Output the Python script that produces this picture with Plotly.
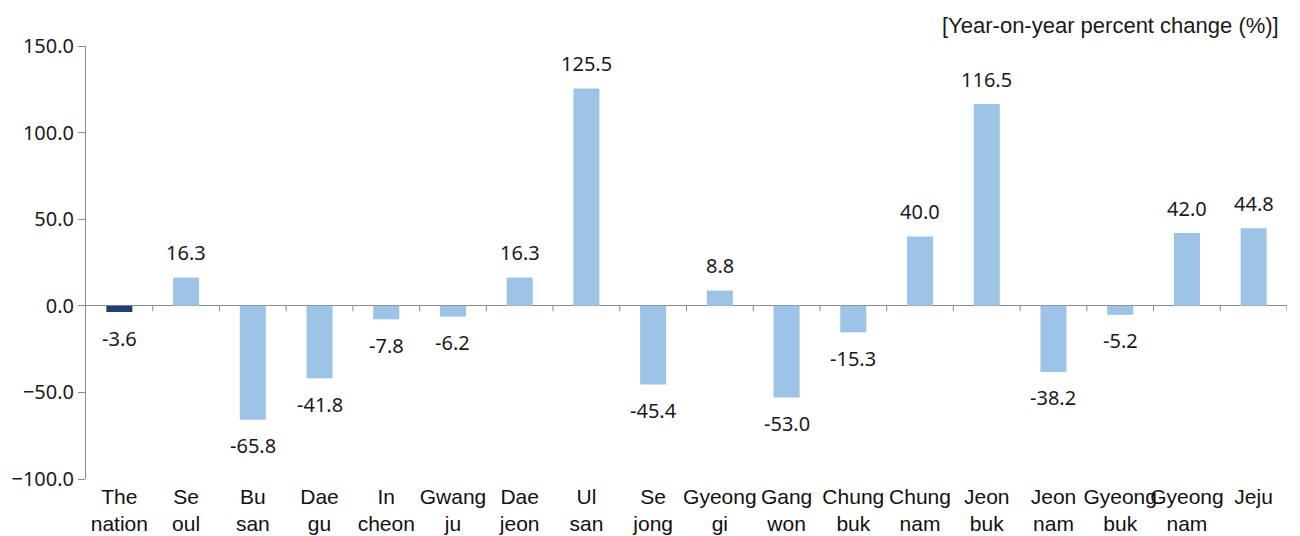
import plotly.graph_objects as go

# Regions and year-on-year percent change
regions = ["The<br>nation", "Se<br>oul", "Bu<br>san", "Dae<br>gu", "In<br>cheon",
           "Gwang<br>ju", "Dae<br>jeon", "Ul<br>san", "Se<br>jong", "Gyeong<br>gi",
           "Gang<br>won", "Chung<br>buk", "Chung<br>nam", "Jeon<br>buk", "Jeon<br>nam",
           "Gyeong<br>buk", "Gyeong<br>nam", "Jeju"]
changes = [-3.6, 16.3, -65.8, -41.8, -7.8, -6.2, 16.3, 125.5, -45.4, 8.8,
           -53.0, -15.3, 40.0, 116.5, -38.2, -5.2, 42.0, 44.8]
y_ticks = [-100, -50, 0, 50, 100, 150]

NATION_COLOR = "#203F78"
REGION_COLOR = "#9DC3E6"
colors = [NATION_COLOR] + [REGION_COLOR] * (len(regions) - 1)

fig = go.Figure()
fig.add_trace(go.Bar(
    x=list(range(len(regions))),
    y=changes,
    marker=dict(color=colors, line=dict(width=0)),
    width=0.39,
    hoverinfo="skip",
))

# Value labels above positive bars and below negative ones
for i, v in enumerate(changes):
    fig.add_annotation(
        x=i, y=v, xref="x", yref="y",
        text=f"{v:.1f}", showarrow=False,
        yanchor="middle", yshift=25 if v >= 0 else -26,
        font=dict(family="Noto Sans", size=20, color="#1a1a1a"),
    )

# Small tick marks at category boundaries along the zero line
for i in range(len(regions)):
    fig.add_shape(
        type="line", xref="x", yref="y",
        x0=i + 0.5, x1=i + 0.5, y0=0, y1=-3.2,
        line=dict(color="#8C8C8C", width=1),
    )

fig.add_annotation(
    xref="paper", yref="paper", x=1.0, y=1.0, xanchor="right", yanchor="bottom",
    yshift=6, xshift=-6,
    text="[Year-on-year percent change (%)]", showarrow=False,
    font=dict(family="Liberation Sans", size=22, color="#1a1a1a"),
)

fig.update_layout(
    width=1300, height=536,
    margin=dict(l=86, r=13, t=46, b=57),
    paper_bgcolor="white", plot_bgcolor="white",
    showlegend=False,
    xaxis=dict(
        range=[-0.5, len(regions) - 0.5],
        tickmode="array",
        tickvals=list(range(len(regions))),
        ticktext=regions,
        tickangle=0,
        automargin=False,
        showgrid=False, zeroline=False, showline=False,
        ticks="", ticklabelstandoff=3,
        tickfont=dict(family="Liberation Sans", size=21, color="#111111"),
    ),
    yaxis=dict(
        range=[-100, 150],
        tickvals=y_ticks,
        tickformat=".1f",
        automargin=False,
        showgrid=False,
        zeroline=True, zerolinecolor="#8C8C8C", zerolinewidth=1,
        showline=True, linecolor="#8C8C8C", linewidth=1,
        ticks="outside", ticklen=7, tickcolor="#8C8C8C",
        tickfont=dict(family="Noto Sans", size=20, color="#1a1a1a"),
    ),
)

fig.write_html("out.html")
